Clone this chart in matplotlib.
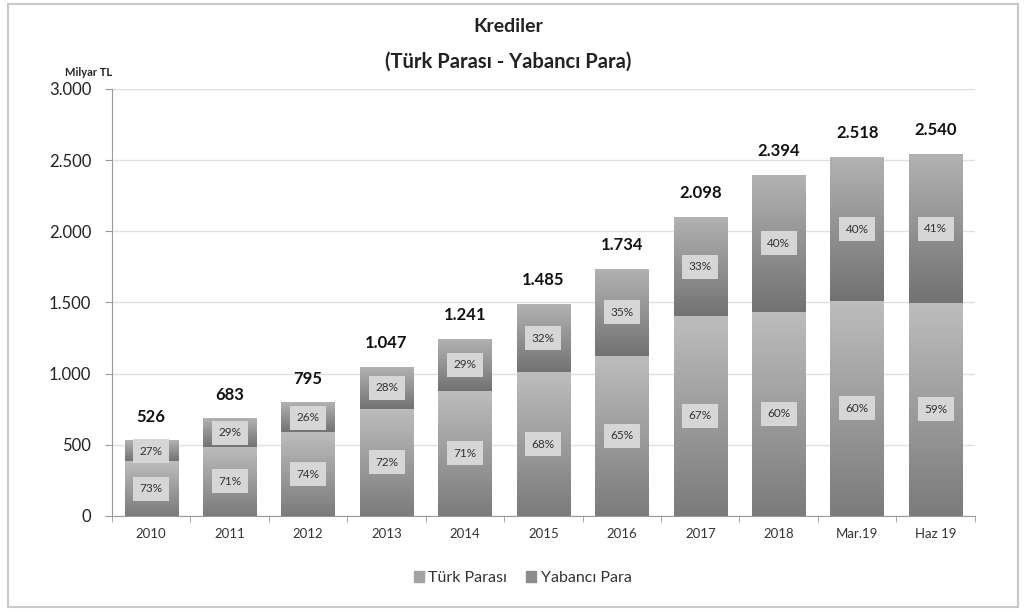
import numpy as np
import matplotlib
matplotlib.use("Agg")
from matplotlib import pyplot as plt
from matplotlib.patches import Rectangle, Patch
from matplotlib.ticker import FuncFormatter

plt.rcParams['font.family'] = ['Lato', 'DejaVu Sans']

# Krediler, milyar TL
donem = ["2010", "2011", "2012", "2013", "2014", "2015", "2016", "2017", "2018", "Mar.19", "Haz 19"]
toplam = [526, 683, 795, 1047, 1241, 1485, 1734, 2098, 2394, 2518, 2540]
tp_pay = [73, 71, 74, 72, 71, 68, 65, 67, 60, 60, 59]
yp_pay = [27, 29, 26, 28, 29, 32, 35, 33, 40, 40, 41]
toplam_etiket = ["526", "683", "795", "1.047", "1.241", "1.485", "1.734", "2.098", "2.394", "2.518", "2.540"]

tp = np.array(toplam) * np.array(tp_pay) / 100.
yp = np.array(toplam) - tp

fig = plt.figure(figsize=(10.25, 6.12), dpi=100)
ax = fig.add_axes([0.1093, 0.1569, 0.8417, 0.6977])

x = np.arange(len(donem))
w = 0.68
b1 = ax.bar(x, tp, w, color='none', edgecolor='none', zorder=3)
b2 = ax.bar(x, yp, w, bottom=tp, color='none', edgecolor='none', zorder=3)

# dikey gradyan dolgu (ustte acik, altta koyu)
grad = np.linspace(0, 1, 256).reshape(-1, 1)
def gradyan(patch, ust, alt):
    x0, y0 = patch.get_x(), patch.get_y()
    x1, y1 = x0 + patch.get_width(), y0 + patch.get_height()
    cmap = matplotlib.colors.LinearSegmentedColormap.from_list('g', [alt, ust])
    ax.imshow(grad, cmap=cmap, extent=[x0, x1, y0, y1], origin='lower',
              aspect='auto', zorder=3, interpolation='bicubic')

for p in b1:
    gradyan(p, '#bdbdbd', '#7b7b7b')
for p in b2:
    gradyan(p, '#b2b2b2', '#727272')

# yuzde etiketleri
kutu = dict(boxstyle='square,pad=0.55', fc='#d6d6d6', ec='none')
for i in range(len(donem)):
    ax.text(x[i], tp[i] / 2., "%d%%" % tp_pay[i], ha='center', va='center',
            fontsize=8.5, color='#333333', bbox=kutu, zorder=5)
    ax.text(x[i], tp[i] + yp[i] / 2., "%d%%" % yp_pay[i], ha='center', va='center',
            fontsize=8.5, color='#333333', bbox=kutu, zorder=5)
    ax.text(x[i], toplam[i] + 170, toplam_etiket[i], ha='center', va='center',
            fontsize=12, fontweight='bold', color='#111111', zorder=5)

ax.set_xlim(-0.5, len(donem) - 0.5)
ax.set_ylim(0, 3000)
ax.set_yticks(np.arange(0, 3001, 500))
ax.yaxis.set_major_formatter(FuncFormatter(lambda v, p: "{:,.0f}".format(v).replace(",", ".")))
ax.set_xticks(x)
ax.set_xticklabels(donem)
ax.set_xticks(np.arange(-0.5, len(donem)), minor=True)
ax.tick_params(axis='x', which='major', length=0, labelsize=9.5, colors='#333333', pad=9)
ax.tick_params(axis='x', which='minor', length=4, color='#999999')
ax.tick_params(axis='y', length=5, color='#999999', labelsize=12, labelcolor='#222222', pad=10)
ax.grid(axis='y', color='#e0e0e0', linewidth=1, zorder=0)
for s in ['top', 'right']:
    ax.spines[s].set_visible(False)
ax.spines['left'].set_color('#999999')
ax.spines['bottom'].set_color('#999999')

fig.text(0.496, 0.957, "Krediler", ha='center', va='center', fontsize=14, fontweight='bold', color='#222222')
fig.text(0.496, 0.899, "(Türk Parası - Yabancı Para)", ha='center', va='center', fontsize=14.5,
         fontweight='bold', color='#222222')
fig.text(0.086, 0.882, "Milyar TL", ha='center', va='center', fontsize=8, fontweight='bold', color='#222222')

fig.legend(handles=[Patch(color='#a2a2a2', label='Türk Parası'),
                    Patch(color='#8c8c8c', label='Yabancı Para')],
           loc='center', bbox_to_anchor=(0.51, 0.055), ncol=2, frameon=False,
           fontsize=11.5, handlelength=0.6, handleheight=0.7, handletextpad=0.3, columnspacing=1.2,
           labelcolor='#333333')

fig.patches.append(Rectangle((0.008, 0.008), 0.985, 0.985, transform=fig.transFigure,
                             fill=False, edgecolor='#c8c8c8', linewidth=1.5))

fig.savefig("out.png", dpi=100)
